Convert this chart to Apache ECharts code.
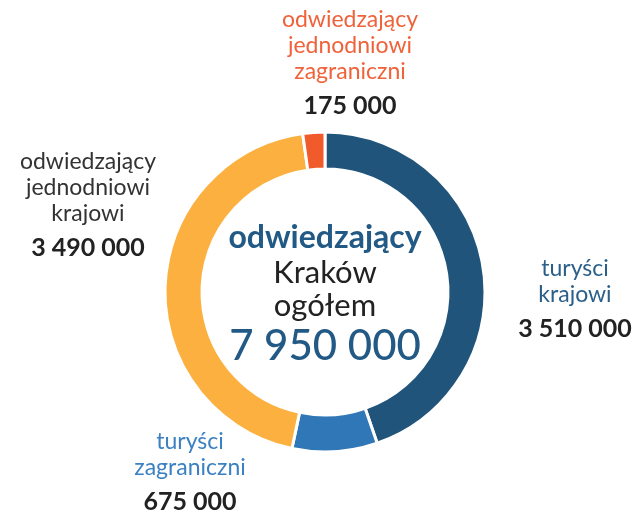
<!DOCTYPE html>
<html>
<head>
<meta charset="utf-8">
<script src="https://cdn.jsdelivr.net/npm/echarts@6/dist/echarts.min.js"></script>
<style>
  html, body { margin: 0; padding: 0; background: #fff; }
  #chart { width: 632px; height: 520px; }
</style>
</head>
<body>
<div id="chart"></div>
<script>
const names = [
  "turyści\nkrajowi",
  "turyści\nzagraniczni",
  "odwiedzający\njednodniowi\nkrajowi",
  "odwiedzający\njednodniowi\nzagraniczni"
];
const values = [3510000, 675000, 3490000, 175000];
const valueLabels = ["3 510 000", "675 000", "3 490 000", "175 000"];
const sliceColors = ["#20547b", "#2f77b6", "#fbb040", "#f15a2b"];
const nameColors = ["#2a5f8a", "#3a80c2", "#333333", "#f0623a"];
// label block centres (x, y) for each slice
const labelSpots = [[575, 303], [190, 476], [88, 209], [350, 67]];
const totalLabel = "7 950 000";

const chart = echarts.init(document.getElementById("chart"));

const rich = { v: { fontFamily: "Lato", fontWeight: "bold", fontSize: 25, color: "#222", lineHeight: 42, align: "center" } };
nameColors.forEach((c, i) => {
  rich["n" + i] = { fontFamily: "Lato", fontWeight: "normal", fontSize: 23, color: c, lineHeight: 26, align: "center" };
});

chart.setOption({
  animation: false,
  title: {
    text: "{a|odwiedzający}\n{b|Kraków}\n{b|ogółem}\n{c|" + totalLabel + "}",
    left: 320,
    top: 215,
    textAlign: "center",
    textStyle: {
      rich: {
        a: { fontFamily: "Lato", fontWeight: "bold", fontSize: 32, color: "#225a85", lineHeight: 36, align: "center" },
        b: { fontFamily: "Lato", fontWeight: "normal", fontSize: 31, color: "#222", lineHeight: 33, align: "center" },
        c: { fontFamily: "Lato", fontWeight: 500, fontSize: 42, color: "#225a85", lineHeight: 48, align: "center" }
      }
    }
  },
  series: [{
    type: "pie",
    center: [325, 292],
    radius: [123, 160],
    startAngle: 90,
    clockwise: true,
    itemStyle: { borderColor: "#fff", borderWidth: 3 },
    labelLine: { show: false },
    label: {
      position: "outside",
      overflow: "none",
      formatter: (p) => {
        const lines = p.name.split("\n").map((l) => "{n" + p.dataIndex + "|" + l + "}");
        return lines.join("\n") + "\n{v|" + valueLabels[p.dataIndex] + "}";
      },
      rich
    },
    labelLayout: (p) => ({
      x: labelSpots[p.dataIndex][0],
      y: labelSpots[p.dataIndex][1],
      align: "center",
      verticalAlign: "middle"
    }),
    data: names.map((n, i) => ({ name: n, value: values[i], itemStyle: { color: sliceColors[i] } }))
  }]
});
</script>
</body>
</html>
